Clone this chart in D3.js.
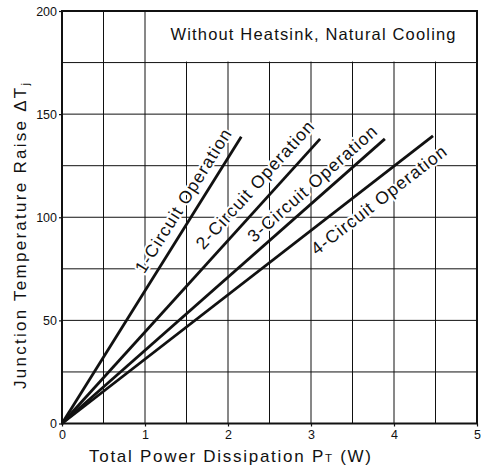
<!DOCTYPE html>
<html><head><meta charset="utf-8">
<script src="https://cdn.jsdelivr.net/npm/d3@7"></script>
<style>
body{margin:0;background:#fff;}
svg{display:block;font-family:"Liberation Sans",Arial,sans-serif;}
</style></head>
<body><svg id="c" width="492" height="471"></svg>
<script>
// ---- data ----
const xTicks = [0, 1, 2, 3, 4, 5];
const yTicks = [0, 50, 100, 150, 200];
const xGrid = [0.5, 1, 1.5, 2, 2.5, 3, 3.5, 4, 4.5];
const yGrid = [25, 50, 75, 100, 125, 150, 175];
const seriesNames = ["1-Circuit Operation", "2-Circuit Operation", "3-Circuit Operation", "4-Circuit Operation"];
const powerEnd = [2.16, 3.11, 3.89, 4.47];   // W at end of each line
const tempEnd = [139, 138, 138, 139.5];      // ΔTj at end of each line
const noteText = "Without Heatsink, Natural Cooling";

// ---- layout ----
const L = 62, R = 477, T = 11, B = 423.5;
const svg = d3.select("#c");
const x = d3.scaleLinear().domain([0, 5]).range([L, R]);
const y = d3.scaleLinear().domain([0, 200]).range([B, T]);
const ink = "#111";

// grid
svg.append("g").selectAll("line").data(xGrid).join("line")
  .attr("x1", d => x(d)).attr("x2", d => x(d)).attr("y1", T).attr("y2", B)
  .attr("stroke", ink).attr("stroke-width", 1);
svg.append("g").selectAll("line").data(yGrid).join("line")
  .attr("x1", L).attr("x2", R).attr("y1", d => y(d)).attr("y2", d => y(d))
  .attr("stroke", ink).attr("stroke-width", 1);

// note box (covers grid)
svg.append("rect").attr("x", x(1.06)).attr("y", T).attr("width", R - x(1.06)).attr("height", y(175) - T - 1)
  .attr("fill", "#fff");
svg.append("text").attr("x", 313).attr("y", 40).attr("text-anchor", "middle")
  .attr("font-size", 16.5).attr("fill", ink).attr("textLength", 285).attr("lengthAdjust", "spacing")
  .text(noteText);

// axes
const xAxis = d3.axisBottom(x).tickValues(xTicks).tickSize(3).tickPadding(4).tickFormat(d3.format("d"));
const yAxis = d3.axisLeft(y).tickValues(yTicks).tickSize(3).tickPadding(2).tickFormat(d3.format("d"));
const gx = svg.append("g").attr("transform", `translate(0,${B})`).call(xAxis);
const gy = svg.append("g").attr("transform", `translate(${L},0)`).call(yAxis);
[gx, gy].forEach(g => {
  g.select(".domain").remove();
  g.selectAll(".tick line").attr("stroke", ink).attr("stroke-width", 1.2);
  g.selectAll(".tick text").attr("font-size", 12.5).attr("fill", ink).attr("font-family", "Liberation Sans, Arial, sans-serif");
});

// series data
const lineGen = d3.line().x(d => x(d[0])).y(d => y(d[1]));
const seriesData = seriesNames.map((n, i) => ({ name: n, pts: [[0, 0], [powerEnd[i], tempEnd[i]]] }));

// series labels with white halo (placement: temperature along line + perpendicular offset in px)
const labelAt = [104, 110, 111, 115];
const labelOff = [15, 17, 14, -18];
seriesData.forEach((d, i) => {
  const x0 = x(0), y0 = y(0), x1 = x(d.pts[1][0]), y1 = y(d.pts[1][1]);
  const dx = x1 - x0, dy = y1 - y0, len = Math.hypot(dx, dy);
  const ux = dx / len, uy = dy / len;
  const nx = uy, ny = -ux; // up-left normal
  const t = (y(labelAt[i]) - y0) / dy;
  const px = x0 + dx * t + nx * labelOff[i];
  const py = y0 + dy * t + ny * labelOff[i];
  const ang = Math.atan2(dy, dx) * 180 / Math.PI;
  svg.append("text").attr("transform", `translate(${px},${py}) rotate(${ang})`)
    .attr("text-anchor", "middle").attr("dy", "0.32em")
    .attr("font-size", 17.5).attr("fill", ink)
    .attr("stroke", "#fff").attr("stroke-width", 4).attr("paint-order", "stroke").attr("stroke-linejoin", "round")
    .attr("textLength", 166).attr("lengthAdjust", "spacing")
    .text(d.name);
});

// series lines
svg.append("g").selectAll("path").data(seriesData).join("path")
  .attr("d", d => lineGen(d.pts)).attr("fill", "none").attr("stroke", ink)
  .attr("stroke-width", 2.8).attr("stroke-linecap", "butt");

// frame
svg.append("rect").attr("x", L).attr("y", T).attr("width", R - L).attr("height", B - T)
  .attr("fill", "none").attr("stroke", ink).attr("stroke-width", 2);

// axis titles
const xt = svg.append("text").attr("x", 230).attr("y", 462).attr("text-anchor", "middle")
  .attr("font-size", 17).attr("fill", ink).attr("textLength", 282).attr("lengthAdjust", "spacing");
xt.append("tspan").text("Total Power Dissipation P");
xt.append("tspan").attr("font-size", 11.5).text("T");
xt.append("tspan").text("  (W)");

const yt = svg.append("text").attr("transform", "translate(26,236) rotate(-90)").attr("text-anchor", "middle")
  .attr("font-size", 17).attr("fill", ink).attr("textLength", 306).attr("lengthAdjust", "spacing");
yt.append("tspan").text("Junction Temperature Raise ΔT");
yt.append("tspan").attr("font-size", 11.5).attr("dy", 3).text("j");
</script></body></html>
